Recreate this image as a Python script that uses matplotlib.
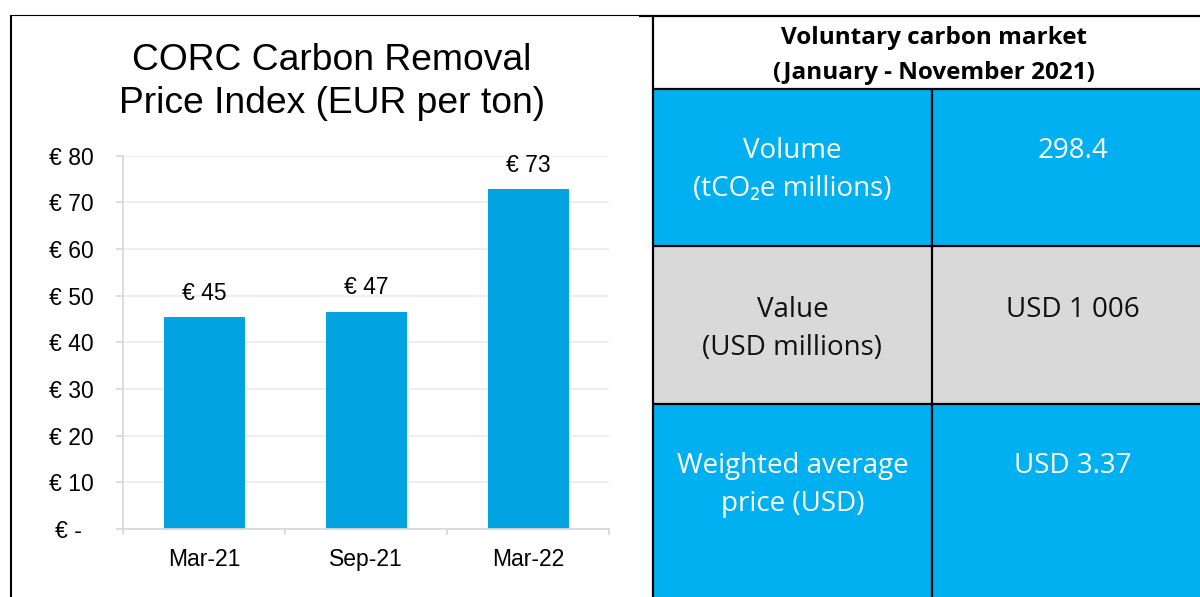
import matplotlib
matplotlib.use("Agg")
import matplotlib.pyplot as plt
from matplotlib.patches import Rectangle
from matplotlib.transforms import ScaledTranslation

periods = ["Mar-21", "Sep-21", "Mar-22"]
price_eur = [45.4, 46.6, 72.8]
y_ticks = [0, 10, 20, 30, 40, 50, 60, 70, 80]

market_header = ["Voluntary carbon market", "(January - November 2021)"]
market_metrics = [["Volume", "(tCO₂e millions)"],
                  ["Value", "(USD millions)"],
                  ["Weighted average", "price (USD)"]]
market_values = ["298.4", "USD 1 006", "USD 3.37"]

BAR = "#02A3E0"
CELL_BLUE = "#00B0F0"
CELL_GRAY = "#D9D9D9"
AXIS_GRAY = "#D9D9D9"
GRID = "#EBEBEB"
TABLE_FONT = ["Open Sans", "DejaVu Sans"]

plt.rcParams["font.family"] = ["Liberation Sans", "DejaVu Sans"]

W, H = 1200, 597
fig = plt.figure(figsize=(W / 100, H / 100), dpi=100)

# pixel canvas for the frames, the title and the table
bg = fig.add_axes([0, 0, 1, 1], zorder=0)
bg.set_xlim(0, W)
bg.set_ylim(H, 0)
bg.axis("off")

# --- bar chart ---
ax = fig.add_axes([123 / W, 1 - 529 / H, (609 - 123) / W, (529 - 155.7) / H], zorder=1)
ax.patch.set_alpha(0)
xs = list(range(len(periods)))
bars = ax.bar(xs, price_eur, width=0.5, color=BAR, zorder=2)
for b, v in zip(bars, price_eur):
    ax.annotate(f"€ {v:.0f}", (b.get_x() + b.get_width() / 2, v), xytext=(0, 12.5),
                textcoords="offset points", ha="center", va="baseline", fontsize=16.5)

ax.set_xlim(-0.5, len(periods) - 0.5)
ax.set_ylim(0, 80)
ax.set_yticks(y_ticks)
ax.set_yticklabels([f"€ {t}" if t else "€ -" for t in y_ticks])
ax.set_xticks(xs)
ax.set_xticklabels(periods)
ax.set_xticks([i - 0.5 for i in range(len(periods) + 1)], minor=True)
ax.tick_params(axis="x", which="major", length=0, pad=13.5, labelsize=16.5)
ax.tick_params(axis="x", which="minor", length=4.5, width=1.3, color=AXIS_GRAY)
ax.tick_params(axis="y", length=5, width=1.3, color=AXIS_GRAY, pad=15.8, labelsize=16.5)
ax.grid(axis="y", color=GRID, lw=1.2, zorder=0)
ax.set_axisbelow(True)
for s in ["top", "right"]:
    ax.spines[s].set_visible(False)
for s in ["left", "bottom"]:
    ax.spines[s].set_color(AXIS_GRAY)
    ax.spines[s].set_linewidth(1.3)

# accounting style: the dash label sits further left
zero = ax.get_yticklabels()[0]
zero.set_transform(zero.get_transform() + ScaledTranslation(-12 / 100, 0, fig.dpi_scale_trans))

bg.text(332, 70, "CORC Carbon Removal", ha="center", va="baseline", fontsize=26.8)
bg.text(332, 113, "Price Index (EUR per ton)", ha="center", va="baseline", fontsize=26.8)

# chart frame
bg.plot([11, 11], [15, H], color="black", lw=1.5, solid_capstyle="butt")
bg.plot([11, 640], [15, 15], color="black", lw=0.8, solid_capstyle="butt")

# --- table ---
tl, tc, tr = 653, 932, 1214
row_edges = [89, 246, 404, H + 5]
row_colors = [CELL_BLUE, CELL_GRAY, CELL_BLUE]
text_colors = ["white", "#111111", "white"]
for i, col in enumerate(row_colors):
    bg.add_patch(Rectangle((tl, row_edges[i]), tr - tl, row_edges[i + 1] - row_edges[i],
                           facecolor=col, edgecolor="none"))

for y in [16, 89, 246, 404]:
    bg.plot([639 if y == 16 else tl, tr], [y, y], color="black", lw=1.6, solid_capstyle="butt")
bg.plot([tl, tl], [16, H], color="black", lw=1.6, solid_capstyle="butt")
bg.plot([tc, tc], [89, H], color="black", lw=1.6, solid_capstyle="butt")

bg.text(934, 44, market_header[0], ha="center", va="baseline", fontsize=17.5,
        fontweight="bold", family=TABLE_FONT)
bg.text(934, 79, market_header[1], ha="center", va="baseline", fontsize=17.5,
        fontweight="bold", family=TABLE_FONT)

first_baselines = [158, 317, 473]
for lines, val, y0, tcol in zip(market_metrics, market_values, first_baselines, text_colors):
    for k, line in enumerate(lines):
        bg.text((tl + tc) / 2, y0 + 38 * k, line, ha="center", va="baseline",
                fontsize=20, color=tcol, family=TABLE_FONT)
    bg.text(1073, y0, val, ha="center", va="baseline", fontsize=20, color=tcol,
            family=TABLE_FONT)

fig.savefig("out.png", dpi=100)
